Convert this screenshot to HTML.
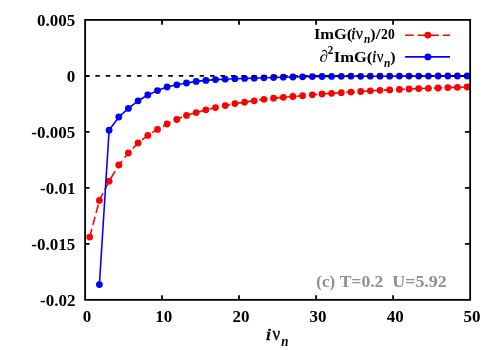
<!DOCTYPE html>
<html><head><meta charset="utf-8"><title>plot</title>
<style>
html,body{margin:0;padding:0;background:#fff;}
svg{display:block;will-change:transform;}
text{font-family:"Liberation Serif",serif;font-weight:bold;font-size:16px;fill:#000;}
</style></head><body>
<svg width="500" height="350" viewBox="0 0 500 350">
<rect width="500" height="350" fill="#fff"/>
<g fill="none" stroke="#000" stroke-width="1.8">
<path d="M162.0 299.85v-4.65M162.0 19.9v4.75M239.0 299.85v-4.65M239.0 19.9v4.75M316.1 299.85v-4.65M316.1 19.9v4.75M393.1 299.85v-4.65M393.1 19.9v4.75M85.1 75.8h4.4M470.15 75.8h-5.1M85.1 131.9h4.4M470.15 131.9h-5.1M85.1 187.9h4.4M470.15 187.9h-5.1M85.1 243.9h4.4M470.15 243.9h-5.1"/>
</g>
<g id="labels">
<text x="36.88" y="25.78" style="font-size:17.00px;">0.005</text>
<text x="66.63" y="81.78" style="font-size:17.00px;">0</text>
<text x="31.30" y="137.78" style="font-size:17.00px;">-0.005</text>
<text x="40.07" y="193.78" style="font-size:17.00px;">-0.01</text>
<text x="31.30" y="249.78" style="font-size:17.00px;">-0.015</text>
<text x="40.07" y="305.78" style="font-size:17.00px;">-0.02</text>
<text x="82.85" y="322.48" style="font-size:17.00px;">0</text>
<text x="155.20" y="322.48" style="font-size:17.00px;">10</text>
<text x="232.47" y="322.48" style="font-size:17.00px;">20</text>
<text x="309.60" y="322.48" style="font-size:17.00px;">30</text>
<text x="386.73" y="322.48" style="font-size:17.00px;">40</text>
<text x="463.47" y="322.48" style="font-size:17.00px;">50</text>
<text transform="translate(313.94 38.50) scale(1.052 1)" style="font-size:15.60px;">ImG</text>
<text transform="translate(346.64 38.50) scale(1.103 1)" style="font-size:15.60px;">(</text>
<text transform="translate(351.27 38.50) scale(0.903 1)" style="font-size:16.54px;font-weight:normal;font-style:italic;stroke:#000;stroke-width:0.50px;">i</text>
<text transform="translate(355.87 38.50) scale(0.960 1)" style="font-size:16.69px;font-weight:normal;stroke:#000;stroke-width:0.25px;">ν</text>
<text transform="translate(364.07 43.40) scale(0.887 1)" style="font-size:12.80px;font-style:italic;">n</text>
<text transform="translate(370.25 38.50) scale(1.026 1)" style="font-size:15.60px;">)</text>
<text transform="translate(375.75 38.50) scale(1.140 1)" style="font-size:15.60px;">/</text>
<text transform="translate(381.11 38.50) scale(0.869 1)" style="font-size:15.60px;">20</text>
<text transform="translate(319.52 61.80) scale(1.013 1)" style="font-size:16.85px;font-weight:normal;">∂</text>
<text transform="translate(327.73 53.80) scale(0.941 1)" style="font-size:11.78px;">2</text>
<text transform="translate(333.73 61.80) scale(1.059 1)" style="font-size:15.60px;">ImG</text>
<text transform="translate(366.64 61.80) scale(1.103 1)" style="font-size:15.60px;">(</text>
<text transform="translate(372.20 61.80) scale(0.850 1)" style="font-size:16.54px;font-weight:normal;font-style:italic;stroke:#000;stroke-width:0.50px;">i</text>
<text transform="translate(376.87 61.80) scale(0.889 1)" style="font-size:16.69px;font-weight:normal;stroke:#000;stroke-width:0.25px;">ν</text>
<text transform="translate(384.07 66.70) scale(0.887 1)" style="font-size:12.80px;font-style:italic;">n</text>
<text transform="translate(390.25 61.80) scale(1.026 1)" style="font-size:15.60px;">)</text>
<text transform="translate(316.26 286.90) scale(0.996 1)" style="font-size:17.00px;fill:#8f8f8f;">(c)</text>
<text transform="translate(339.78 286.90) scale(1.032 1)" style="font-size:17.00px;fill:#8f8f8f;">T=0.2</text>
<text transform="translate(392.29 286.90) scale(1.052 1)" style="font-size:17.00px;fill:#8f8f8f;">U=5.92</text>
<text transform="translate(265.59 340.40) scale(1.180 1)" style="font-size:17.68px;font-weight:normal;font-style:italic;stroke:#000;stroke-width:0.50px;">i</text>
<text transform="translate(272.43 340.40) scale(0.922 1)" style="font-size:18.36px;font-weight:normal;stroke:#000;stroke-width:0.35px;">ν</text>
<text transform="translate(281.25 345.90) scale(0.900 1)" style="font-size:14.45px;font-style:italic;">n</text>
</g>
<g fill="#ff0000">
<polyline points="89.7,237.1 99.4,200.4 109.1,181.2 118.8,165.0 128.4,153.0 138.1,143.0 147.8,135.4 157.5,129.4 167.1,124.0 176.8,119.5 186.5,115.4 196.2,112.6 205.9,109.8 215.5,107.6 225.2,105.6 234.9,103.6 244.6,102.2 254.2,100.8 263.9,99.3 273.6,98.2 283.3,97.3 292.9,96.5 302.6,95.7 312.3,94.8 322.0,94.0 331.6,93.3 341.3,92.7 351.0,92.1 360.7,91.5 370.3,90.8 380.0,90.3 389.7,89.9 399.4,89.4 409.0,89.0 418.7,88.6 428.4,88.3 438.1,88.0 447.8,87.6 457.4,87.3 467.1,87.0" fill="none" stroke="#ff0000" stroke-width="1.58" stroke-dasharray="8.5 4.02"/>
<circle cx="89.7" cy="237.1" r="3.4"/><circle cx="99.4" cy="200.4" r="3.4"/><circle cx="109.1" cy="181.2" r="3.4"/><circle cx="118.8" cy="165.0" r="3.4"/><circle cx="128.4" cy="153.0" r="3.4"/><circle cx="138.1" cy="143.0" r="3.4"/><circle cx="147.8" cy="135.4" r="3.4"/><circle cx="157.5" cy="129.4" r="3.4"/><circle cx="167.1" cy="124.0" r="3.4"/><circle cx="176.8" cy="119.5" r="3.4"/><circle cx="186.5" cy="115.4" r="3.4"/><circle cx="196.2" cy="112.6" r="3.4"/><circle cx="205.9" cy="109.8" r="3.4"/><circle cx="215.5" cy="107.6" r="3.4"/><circle cx="225.2" cy="105.6" r="3.4"/><circle cx="234.9" cy="103.6" r="3.4"/><circle cx="244.6" cy="102.2" r="3.4"/><circle cx="254.2" cy="100.8" r="3.4"/><circle cx="263.9" cy="99.3" r="3.4"/><circle cx="273.6" cy="98.2" r="3.4"/><circle cx="283.3" cy="97.3" r="3.4"/><circle cx="292.9" cy="96.5" r="3.4"/><circle cx="302.6" cy="95.7" r="3.4"/><circle cx="312.3" cy="94.8" r="3.4"/><circle cx="322.0" cy="94.0" r="3.4"/><circle cx="331.6" cy="93.3" r="3.4"/><circle cx="341.3" cy="92.7" r="3.4"/><circle cx="351.0" cy="92.1" r="3.4"/><circle cx="360.7" cy="91.5" r="3.4"/><circle cx="370.3" cy="90.8" r="3.4"/><circle cx="380.0" cy="90.3" r="3.4"/><circle cx="389.7" cy="89.9" r="3.4"/><circle cx="399.4" cy="89.4" r="3.4"/><circle cx="409.0" cy="89.0" r="3.4"/><circle cx="418.7" cy="88.6" r="3.4"/><circle cx="428.4" cy="88.3" r="3.4"/><circle cx="438.1" cy="88.0" r="3.4"/><circle cx="447.8" cy="87.6" r="3.4"/><circle cx="457.4" cy="87.3" r="3.4"/><circle cx="467.1" cy="87.0" r="3.4"/>
</g>
<g fill="#0000ff">
<polyline points="99.4,284.6 109.1,130.2 118.8,117.0 128.4,108.4 138.1,100.8 147.8,95.0 157.5,90.6 167.1,87.0 176.8,84.8 186.5,83.0 196.2,81.4 205.9,80.4 215.5,79.6 225.2,79.2 234.9,78.7 244.6,78.4 254.2,78.2 263.9,77.8 273.6,77.5 283.3,77.2 292.9,77.0 302.6,76.8 312.3,76.6 322.0,76.5 331.6,76.4 341.3,76.3 351.0,76.2 360.7,76.3 370.3,76.2 380.0,76.2 389.7,76.2 399.4,76.1 409.0,76.1 418.7,76.1 428.4,76.1 438.1,76.0 447.8,76.0 457.4,76.0 467.1,76.0" fill="none" stroke="#0000ff" stroke-width="1.58" stroke-linejoin="round"/>
<circle cx="99.4" cy="284.6" r="3.4"/><circle cx="109.1" cy="130.2" r="3.4"/><circle cx="118.8" cy="117.0" r="3.4"/><circle cx="128.4" cy="108.4" r="3.4"/><circle cx="138.1" cy="100.8" r="3.4"/><circle cx="147.8" cy="95.0" r="3.4"/><circle cx="157.5" cy="90.6" r="3.4"/><circle cx="167.1" cy="87.0" r="3.4"/><circle cx="176.8" cy="84.8" r="3.4"/><circle cx="186.5" cy="83.0" r="3.4"/><circle cx="196.2" cy="81.4" r="3.4"/><circle cx="205.9" cy="80.4" r="3.4"/><circle cx="215.5" cy="79.6" r="3.4"/><circle cx="225.2" cy="79.2" r="3.4"/><circle cx="234.9" cy="78.7" r="3.4"/><circle cx="244.6" cy="78.4" r="3.4"/><circle cx="254.2" cy="78.2" r="3.4"/><circle cx="263.9" cy="77.8" r="3.4"/><circle cx="273.6" cy="77.5" r="3.4"/><circle cx="283.3" cy="77.2" r="3.4"/><circle cx="292.9" cy="77.0" r="3.4"/><circle cx="302.6" cy="76.8" r="3.4"/><circle cx="312.3" cy="76.6" r="3.4"/><circle cx="322.0" cy="76.5" r="3.4"/><circle cx="331.6" cy="76.4" r="3.4"/><circle cx="341.3" cy="76.3" r="3.4"/><circle cx="351.0" cy="76.2" r="3.4"/><circle cx="360.7" cy="76.3" r="3.4"/><circle cx="370.3" cy="76.2" r="3.4"/><circle cx="380.0" cy="76.2" r="3.4"/><circle cx="389.7" cy="76.2" r="3.4"/><circle cx="399.4" cy="76.1" r="3.4"/><circle cx="409.0" cy="76.1" r="3.4"/><circle cx="418.7" cy="76.1" r="3.4"/><circle cx="428.4" cy="76.1" r="3.4"/><circle cx="438.1" cy="76.0" r="3.4"/><circle cx="447.8" cy="76.0" r="3.4"/><circle cx="457.4" cy="76.0" r="3.4"/><circle cx="467.1" cy="76.0" r="3.4"/>
</g>
<path d="M84.9 75.8H470.2" fill="none" stroke="#000" stroke-width="1.8" stroke-dasharray="4.4 6.035"/>
<rect x="85.1" y="19.9" width="385.05" height="279.95" fill="none" stroke="#000" stroke-width="1.8"/>
<path d="M405.1 35.2H450" stroke="#ff0000" stroke-width="1.58" stroke-dasharray="8.6 4.0" fill="none"/>
<circle cx="427.8" cy="35.1" r="3.4" fill="#ff0000"/>
<path d="M405.1 56.9H450" stroke="#0000ff" stroke-width="1.58" fill="none"/>
<circle cx="427.85" cy="56.9" r="3.4" fill="#0000ff"/>
</svg>
</body></html>
